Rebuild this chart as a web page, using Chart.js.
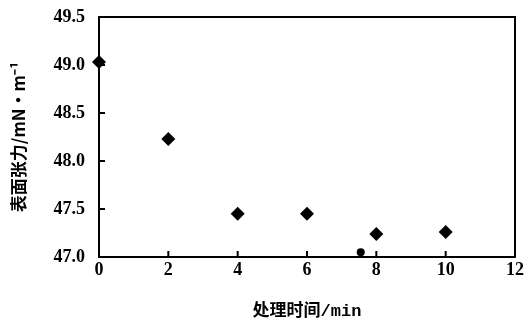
<!DOCTYPE html>
<html>
<head>
<meta charset="utf-8">
<script src="https://cdn.jsdelivr.net/npm/chart.js@4.4.1/dist/chart.umd.min.js"></script>
<style>
  html, body { margin: 0; padding: 0; background: #fff; }
  #wrap { width: 529px; height: 324px; position: relative; }
</style>
</head>
<body>
<div id="wrap"><canvas id="c" width="529" height="324"></canvas></div>
<script>
// Treatment time (min) and measured surface tension (mN·m⁻¹)
const timeMin = [0, 2, 4, 6, 8, 10];
const surfaceTension = [49.03, 48.23, 47.45, 47.45, 47.24, 47.26];
// Single extra reading sitting near the baseline
const extraTime = [7.55];
const extraTension = [47.05];

const xTicks = [0, 2, 4, 6, 8, 10, 12];
const yTicks = [47.0, 47.5, 48.0, 48.5, 49.0, 49.5];

const xTitle = '处理时间/min';
const yTitle = '表面张力/mN·m⁻¹';

const tickFont = { family: 'Liberation Serif, serif', size: 18, weight: 'bold' };
const xTitleFont = { family: 'Liberation Mono, Noto Sans CJK SC, monospace', size: 17, weight: 'bold' };
const yTitleFont = { family: 'Noto Sans CJK SC, Liberation Serif, sans-serif', size: 17, weight: 'bold' };

// Closed frame around the plot area plus inward tick marks
const framePlugin = {
  id: 'frame',
  afterDatasetsDraw(chart) {
    const { ctx, chartArea: a, scales } = chart;
    ctx.save();
    ctx.strokeStyle = '#000';
    ctx.lineWidth = 2;
    ctx.strokeRect(a.left, a.top, a.right - a.left, a.bottom - a.top);
    ctx.beginPath();
    scales.x.ticks.forEach((t, i) => {
      const px = scales.x.getPixelForTick(i);
      ctx.moveTo(px, a.bottom);
      ctx.lineTo(px, a.bottom - 6);
    });
    scales.y.ticks.forEach((t, i) => {
      const py = scales.y.getPixelForTick(i);
      ctx.moveTo(a.left, py);
      ctx.lineTo(a.left + 6, py);
    });
    ctx.stroke();
    ctx.restore();
  }
};

function draw() {
  new Chart(document.getElementById('c'), {
    type: 'scatter',
    data: {
      datasets: [
        {
          data: timeMin.map((x, i) => ({ x, y: surfaceTension[i] })),
          pointStyle: 'rectRot',
          pointRadius: 7,
          pointHoverRadius: 7,
          backgroundColor: '#000',
          borderColor: '#000',
          borderWidth: 0,
          clip: false
        },
        {
          data: extraTime.map((x, i) => ({ x, y: extraTension[i] })),
          pointStyle: 'circle',
          pointRadius: 4,
          backgroundColor: '#000',
          borderColor: '#000',
          borderWidth: 0,
          clip: false
        }
      ]
    },
    options: {
      responsive: false,
      animation: false,
      events: [],
      layout: { padding: { left: 8, top: 17, right: 14, bottom: 2 } },
      plugins: { legend: { display: false }, tooltip: { enabled: false } },
      scales: {
        x: {
          type: 'linear',
          min: 0, max: 12,
          afterBuildTicks: s => { s.ticks = xTicks.map(v => ({ value: v })); },
          afterFit: s => { s.height = 65; s.paddingLeft = 0; s.paddingRight = 0; },
          grid: { display: false, drawTicks: false },
          border: { display: false },
          ticks: { color: '#000', font: tickFont, padding: 3, maxRotation: 0 },
          title: { display: true, text: xTitle, color: '#000', font: xTitleFont, padding: { top: 18, bottom: 0 } }
        },
        y: {
          type: 'linear',
          min: 47.0, max: 49.5,
          afterBuildTicks: s => { s.ticks = yTicks.map(v => ({ value: v })); },
          afterFit: s => { s.width = 91; s.paddingTop = 0; s.paddingBottom = 0; },
          grid: { display: false, drawTicks: false },
          border: { display: false },
          ticks: { color: '#000', font: tickFont, padding: 14, callback: v => Number(v).toFixed(1) },
          title: { display: true, text: yTitle, color: '#000', font: yTitleFont, padding: { top: 0, bottom: 10 } }
        }
      }
    },
    plugins: [framePlugin]
  });
}

Promise.all([
  document.fonts.load('bold 18px "Liberation Serif"'),
  document.fonts.load('bold 17px "Liberation Mono"'),
  document.fonts.load('bold 17px "Noto Sans CJK SC"')
]).then(draw, draw);
</script>
</body>
</html>
